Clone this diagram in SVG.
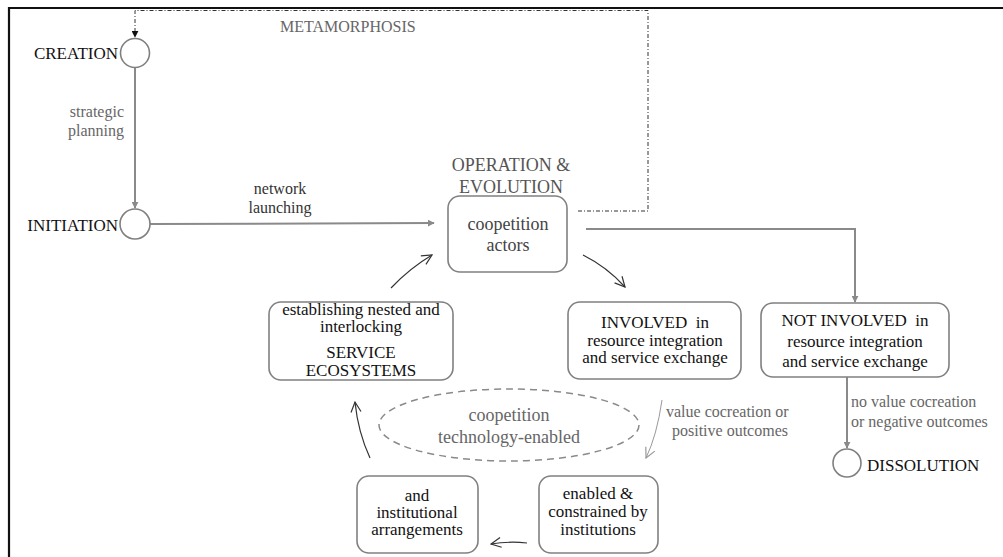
<svg xmlns="http://www.w3.org/2000/svg" width="1003" height="557" viewBox="0 0 1003 557" font-family="'Liberation Serif', 'Times New Roman', serif">
  <style>
    text { font-family: "Liberation Serif", "Times New Roman", serif; }
    .state { fill: #fff; stroke: #808080; stroke-width: 1.6; }
    .box { fill: #fff; stroke: #808080; stroke-width: 1.6; }
    .blk { fill: #111; font-size: 17px; }
    .gry { fill: #666; font-size: 16px; }
    .lbl { fill: #333; font-size: 16px; }
    .flow { fill: none; stroke: #8a8a8a; stroke-width: 2; }
    .thin { fill: none; stroke: #333; stroke-width: 1.2; }
    .mid { text-anchor: middle; }
    .end { text-anchor: end; }
  </style>
  <defs>
    <marker id="tri" viewBox="0 0 10 10" refX="9" refY="5" markerWidth="7" markerHeight="7" orient="auto" markerUnits="userSpaceOnUse">
      <path d="M0,0 L10,5 L0,10 Z" fill="#8a8a8a"/>
    </marker>
    <marker id="triBlack" viewBox="0 0 10 10" refX="9" refY="5" markerWidth="7" markerHeight="7" orient="auto" markerUnits="userSpaceOnUse">
      <path d="M0,0 L10,5 L0,10 Z" fill="#111"/>
    </marker>
    <marker id="open" viewBox="0 0 12 12" refX="11" refY="6" markerWidth="12" markerHeight="12" orient="auto" markerUnits="userSpaceOnUse">
      <path d="M1,1 L11,6 L1,11" fill="none" stroke="#333" stroke-width="1.2"/>
    </marker>
    <marker id="openLight" viewBox="0 0 12 12" refX="11" refY="6" markerWidth="12" markerHeight="12" orient="auto" markerUnits="userSpaceOnUse">
      <path d="M1,1 L11,6 L1,11" fill="none" stroke="#999" stroke-width="1.2"/>
    </marker>
  </defs>

  <rect width="1003" height="557" fill="#fff"/>

  <!-- frame -->
  <g id="frame">
    <line x1="9" y1="8" x2="1003" y2="8" stroke="#111" stroke-width="2.2"/>
    <line x1="9" y1="7" x2="9" y2="557" stroke="#111" stroke-width="2.2"/>
  </g>

  <!-- connectors -->
  <g id="connectors">
    <!-- metamorphosis loop -->
    <path d="M578,211 H648 V10.5 H135 V37" fill="none" stroke="#333" stroke-width="1" stroke-dasharray="4,2,1,2" marker-end="url(#triBlack)"/>
    <!-- creation -> initiation -->
    <line class="flow" x1="135" y1="68" x2="135" y2="208" stroke-width="1.5" marker-end="url(#tri)"/>
    <!-- initiation -> operation -->
    <line class="flow" x1="150" y1="224" x2="434" y2="223" stroke-width="1.5" marker-end="url(#tri)"/>
    <!-- operation -> not involved -->
    <path class="flow" d="M586,229 H855 V302" marker-end="url(#tri)"/>
    <!-- not involved -> dissolution -->
    <line class="flow" x1="847" y1="377" x2="847" y2="448" stroke-width="1.5" marker-end="url(#tri)"/>
    <!-- cycle arrows -->
    <path class="thin" d="M583,255 Q607,267 625,287" marker-end="url(#open)"/>
    <path d="M662,400 Q657,435 646,458" fill="none" stroke="#999" stroke-width="1" marker-end="url(#openLight)"/>
    <path class="thin" d="M527,543 Q509,541 491,544" marker-end="url(#open)"/>
    <path class="thin" d="M370,458 Q358,432 355,402" marker-end="url(#open)"/>
    <path class="thin" d="M391,288 Q410,268 432,255" marker-end="url(#open)"/>
  </g>

  <text class="gry" x="280" y="32" fill="#777">METAMORPHOSIS</text>

  <g id="creation">
    <circle class="state" cx="135" cy="53" r="14.5"/>
    <text class="blk end" x="118" y="59">CREATION</text>
  </g>

  <g id="strategic-planning-label">
    <text class="gry end" x="124" y="117">strategic</text>
    <text class="gry end" x="124" y="136">planning</text>
  </g>

  <g id="initiation">
    <circle class="state" cx="135" cy="224" r="15"/>
    <text class="blk end" x="118" y="231">INITIATION</text>
  </g>

  <g id="network-launching-label">
    <text class="lbl mid" x="280" y="194">network</text>
    <text class="lbl mid" x="280" y="213">launching</text>
  </g>

  <g id="operation">
    <text class="mid" x="511" y="171" fill="#555" font-size="18">OPERATION &amp;</text>
    <text class="mid" x="511" y="193" fill="#555" font-size="18">EVOLUTION</text>
    <rect class="box" x="448" y="196" width="119" height="76" rx="12"/>
    <text class="mid" x="508" y="230" fill="#444" font-size="18">coopetition</text>
    <text class="mid" x="508" y="251" fill="#444" font-size="18">actors</text>
  </g>

  <g id="involved">
    <rect class="box" x="568" y="302" width="173" height="77" rx="12"/>
    <text class="blk mid" x="655" y="328" xml:space="preserve">INVOLVED  in</text>
    <text class="blk mid" x="655" y="346">resource integration</text>
    <text class="blk mid" x="655" y="363">and service exchange</text>
  </g>

  <g id="not-involved">
    <rect class="box" x="761" y="303" width="188" height="74" rx="12"/>
    <text class="blk mid" x="855" y="326" xml:space="preserve">NOT INVOLVED  in</text>
    <text class="blk mid" x="855" y="347">resource integration</text>
    <text class="blk mid" x="855" y="367">and service exchange</text>
  </g>

  <g id="no-value-label">
    <text class="gry" x="851" y="407">no value cocreation</text>
    <text class="gry" x="851" y="427">or negative outcomes</text>
  </g>

  <g id="dissolution">
    <circle class="state" cx="847" cy="463" r="14"/>
    <text class="blk" x="867" y="471" font-size="18">DISSOLUTION</text>
  </g>

  <g id="service-ecosystems">
    <rect class="box" x="269" y="302" width="184" height="78" rx="12"/>
    <text class="blk mid" x="361" y="315">establishing nested and</text>
    <text class="blk mid" x="361" y="332">interlocking</text>
    <text class="blk mid" x="361" y="358">SERVICE</text>
    <text class="blk mid" x="361" y="376">ECOSYSTEMS</text>
  </g>

  <g id="technology-enabled">
    <ellipse cx="509" cy="425" rx="130" ry="36" fill="none" stroke="#8a8a8a" stroke-width="1.5" stroke-dasharray="7,5"/>
    <text class="mid" x="509" y="421" fill="#666" font-size="18">coopetition</text>
    <text class="mid" x="509" y="443" fill="#666" font-size="18">technology-enabled</text>
  </g>

  <g id="value-cocreation-label">
    <text class="gry" x="666" y="417">value cocreation or</text>
    <text class="gry" x="672" y="436">positive outcomes</text>
  </g>

  <g id="enabled-constrained">
    <rect class="box" x="539" y="476" width="119" height="77" rx="12"/>
    <text class="blk mid" x="598" y="499" font-size="16">enabled &amp;</text>
    <text class="blk mid" x="598" y="517" font-size="16">constrained by</text>
    <text class="blk mid" x="598" y="535" font-size="16">institutions</text>
  </g>

  <g id="institutional-arrangements">
    <rect class="box" x="357" y="476" width="121" height="77" rx="12"/>
    <text class="blk mid" x="417" y="501">and</text>
    <text class="blk mid" x="417" y="518">institutional</text>
    <text class="blk mid" x="417" y="535">arrangements</text>
  </g>
</svg>
